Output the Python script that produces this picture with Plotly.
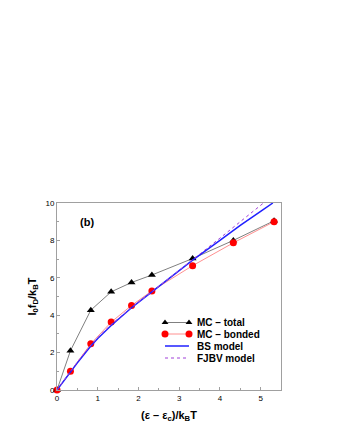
import plotly.graph_objects as go

# reduced energy (eps - eps_c)/kBT
mc_x = [0, 0.33, 0.83, 1.33, 1.83, 2.33, 3.33, 4.33, 5.33]
mc_total = [0, 2.1, 4.27, 5.25, 5.75, 6.15, 7.03, 8.0, 9.05]
mc_bonded = [0, 1.0, 2.47, 3.63, 4.52, 5.3, 6.65, 7.87, 9.0]

model_x = [0, 0.25, 0.5, 0.83, 1.0, 1.33, 1.83, 2.33, 2.83, 3.33, 4.0, 4.5, 5.0, 5.3]
bs_model = [0, 0.75, 1.45, 2.35, 2.75, 3.45, 4.4, 5.25, 6.1, 6.95, 8.0, 8.8, 9.55, 10.0]
fjbv_model = [0, 0.78, 1.5, 2.4, 2.8, 3.5, 4.42, 5.25, 6.1, 6.95, 8.12, 9.0, 9.88, 10.4]

legend_labels = ["MC \u2013 total", "MC \u2013 bonded", "BS model", "FJBV model"]

FONT = "Liberation Sans, Arial, sans-serif"
AXIS_GRAY = "#a0a0a0"

styles = [
    dict(mode="lines+markers", line=dict(color="#808080", width=1),
         marker=dict(symbol="triangle-up", size=7, color="black")),
    dict(mode="lines+markers", line=dict(color="#ff9090", width=1),
         marker=dict(symbol="circle", size=7, color="red")),
    dict(mode="lines", line=dict(color="#2020ff", width=1.5)),
    dict(mode="lines", line=dict(color="#a040d8", width=1, dash="dot")),
]
series = [
    (mc_x, mc_total),
    (mc_x, mc_bonded),
    (model_x, bs_model),
    (model_x, fjbv_model),
]

fig = go.Figure()

for (xs, ys), st, lab in zip(series, styles, legend_labels):
    fig.add_trace(go.Scatter(x=xs, y=ys, name=lab, showlegend=False,
                             cliponaxis=False, **st))

# hand-drawn legend (xmgrace style: symbol at both ends of the sample line)
# overlay axes measured in pixels of the plot area
leg_x0, leg_x1, leg_text_x = 108, 132, 138
leg_rows = [67.5, 56, 44, 32]
for st, lab, ry in zip(styles, legend_labels, leg_rows):
    st = dict(st)
    if "marker" in st and st["marker"]["symbol"] == "triangle-up":
        st["marker"] = dict(st["marker"], size=6)
    fig.add_trace(go.Scatter(x=[leg_x0, leg_x1], y=[ry, ry], xaxis="x2", yaxis="y2",
                             showlegend=False, hoverinfo="skip", cliponaxis=False, **st))
    fig.add_annotation(x=leg_text_x, y=ry, xref="x2", yref="y2", text=f"<b>{lab}</b>",
                       showarrow=False, xanchor="left", yanchor="middle",
                       font=dict(size=10, color="black", family=FONT))

fig.add_annotation(
    x=0.73, y=9.0, text="<b>(b)</b>", showarrow=False,
    font=dict(size=11, color="black", family=FONT),
)

axis_common = dict(
    showline=True, linecolor=AXIS_GRAY, linewidth=1, mirror=True,
    ticks="inside", ticklen=3, tickcolor=AXIS_GRAY,
    showgrid=False, zeroline=False,
    tickfont=dict(size=8, color="black", family=FONT),
)

fig.update_layout(
    xaxis=dict(
        range=[0, 5.5], tickvals=[0, 1, 2, 3, 4, 5],
        minor=dict(ticks="inside", ticklen=2, tickcolor=AXIS_GRAY, dtick=0.5, tick0=0),
        title=dict(text="<b>(\u03b5 \u2013 \u03b5<sub>c</sub>)/k<sub>B</sub>T</b>",
                   font=dict(size=11, color="black", family=FONT), standoff=9),
        **axis_common,
    ),
    yaxis=dict(
        range=[0, 10], tickvals=[0, 2, 4, 6, 8, 10],
        minor=dict(ticks="inside", ticklen=2, tickcolor=AXIS_GRAY, dtick=1, tick0=0),
        title=dict(text="<b>I<sub>0</sub>f<sub>D</sub>/k<sub>B</sub>T</b>",
                   font=dict(size=11, color="black", family=FONT), standoff=6),
        **axis_common,
    ),
    xaxis2=dict(overlaying="x", range=[0, 224], visible=False),
    yaxis2=dict(overlaying="y", range=[0, 187], visible=False),
    width=340, height=440,
    margin=dict(l=49, r=67, t=195, b=58),
    plot_bgcolor="white", paper_bgcolor="white",
    font=dict(family=FONT, color="black"),
    showlegend=False,
)

fig.write_html("out.html")
